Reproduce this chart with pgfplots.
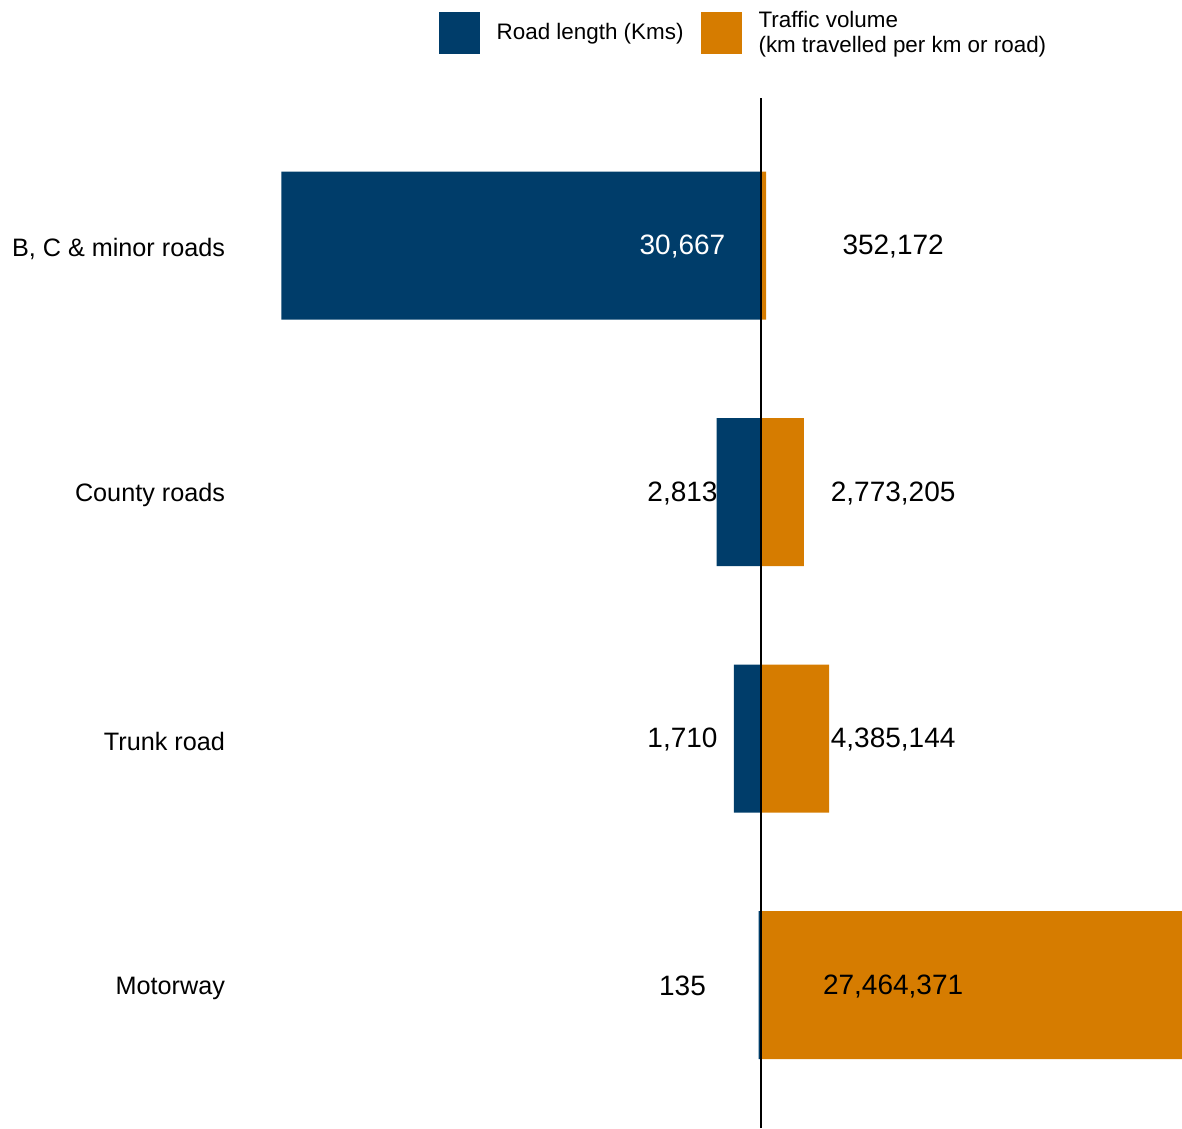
\documentclass[border=0pt]{standalone}
\usepackage{pgfplots}
\pgfplotsset{compat=1.18}
\usepackage{pgfplotstable}
\usepackage{fontspec}
\setmainfont{Liberation Sans}
\definecolor{roadblue}{HTML}{003D6A}
\definecolor{trafforange}{HTML}{D67C00}
\pgfplotstableread{
y len
0 -135
1 -1710
2 -2813
3 -30667
}\roadlen
\pgfplotstableread{
y vol
0 27464.371
1 4385.144
2 2773.205
3 352.172
}\traffic
\pgfplotstableread{
x y label
-5000 0 135
-5000 1 {1,710}
-5000 2 {2,813}
8480 0 {27,464,371}
8480 1 {4,385,144}
8480 2 {2,773,205}
8480 3 {352,172}
}\labels
\begin{document}
\begin{tikzpicture}
\begin{axis}[
  scale only axis,
  width=475pt, height=515pt,
  xmin=-33867, xmax=26952,
  ymin=-0.58, ymax=3.6,
  axis line style={draw=none},
  xtick=\empty,
  ytick={0,1,2,3},
  yticklabels={Motorway,Trunk road,County roads,{B, C \& minor roads}},
  yticklabel style={font=\fontsize{12.6}{15}\selectfont, anchor=east, xshift=3pt, yshift=-1.5pt, inner xsep=6pt},
  major tick length=0pt,
  legend style={at={(0.2177,1)}, anchor=south west, yshift=15.5pt, draw=none,
    font=\fontsize{11.2}{12.5}\selectfont, cells={align=left, anchor=west},
    column sep=6.5pt, inner xsep=0pt, inner ysep=3.5pt},
  legend columns=2,
  legend image code/.code={\fill[#1] (0pt,-10.5pt) rectangle (20.5pt,10.5pt);},
  clip=true,
]
\addplot[xbar, bar shift=0pt, bar width=74pt, fill=roadblue, draw=none] table[x=len, y=y] {\roadlen};
\addlegendentry{Road length (Kms)}
\addplot[xbar, bar shift=0pt, bar width=74pt, fill=trafforange, draw=none] table[x=vol, y=y] {\traffic};
\addlegendentry{Traffic volume\\(km travelled per km or road)}
\addplot[black, line width=1pt, forget plot] coordinates {(0,-0.58) (0,3.6)};
\addplot[only marks, mark=none, forget plot, nodes near coords, point meta=explicit symbolic,
  nodes near coords style={anchor=center, font=\fontsize{14}{16}\selectfont, text=black, yshift=-0.5pt}]
  table[x=x, y=y, meta=label] {\labels};
\addplot[only marks, mark=none, forget plot, nodes near coords, point meta=explicit symbolic,
  nodes near coords style={anchor=center, font=\fontsize{14}{16}\selectfont, text=white, yshift=-0.5pt}]
  coordinates {(-5000,3) [{30,667}]};
\end{axis}
\end{tikzpicture}
\end{document}
